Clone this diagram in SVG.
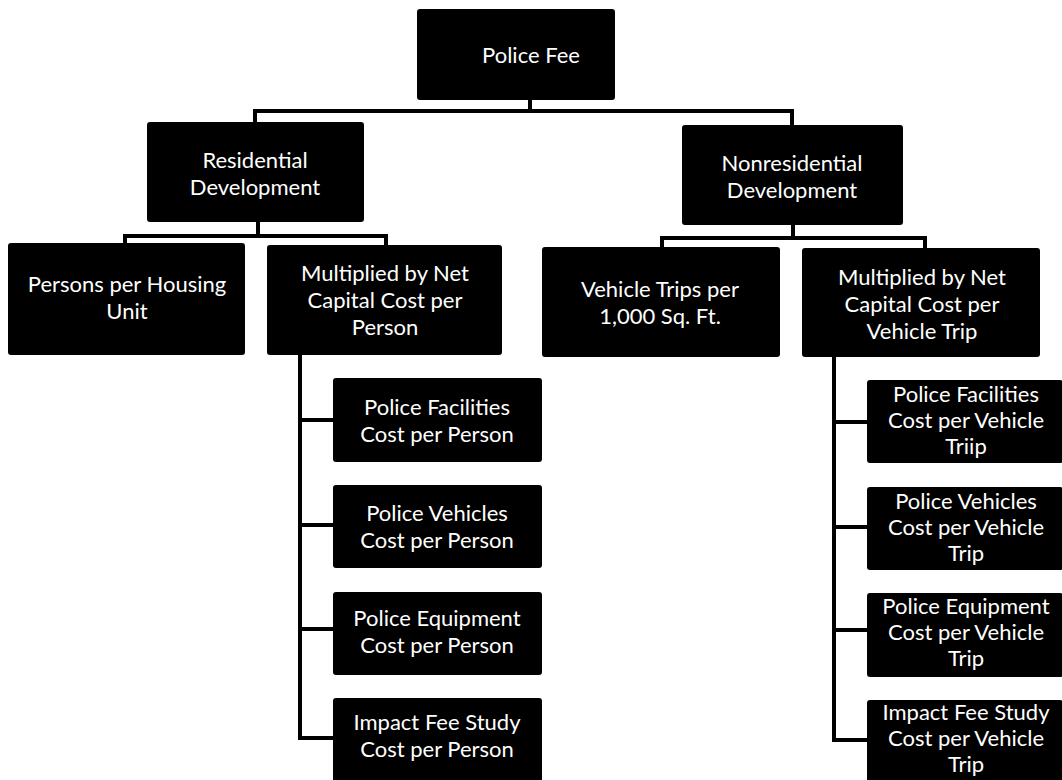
<svg xmlns="http://www.w3.org/2000/svg" width="1062" height="780" viewBox="0 0 1062 780">
<style>
.box{fill:#000;}
.t{font-family:Lato,"Open Sans","Liberation Sans",sans-serif;font-size:22px;fill:#fff;text-anchor:middle;}
.c{stroke:#000;stroke-width:4;fill:none;stroke-linecap:square;}
</style>
<rect width="1062" height="780" fill="#fff"/>
<g id="connectors">
<path class="c" d="M530 100V111M255 111H792M255 111V122M792 111V125"/>
<path class="c" d="M258 222V236M125 236H386M125 236V243M386 236V245"/>
<path class="c" d="M793 225V238M662 238H925M662 238V247M925 238V248"/>
<path class="c" d="M300 355V738M300 420H333M300 525H333M300 629H333M300 738H333"/>
<path class="c" d="M834 357V740M834 422H867M834 527H867M834 630H867M834 740H867"/>
</g>
<g id="police-fee"><rect class="box" x="417" y="9" width="198" height="91" rx="3"/><text class="t" x="531" y="63">Police Fee</text></g>
<g id="residential"><rect class="box" x="147" y="122" width="217" height="100" rx="3"/><text class="t" x="255" y="168">Residential</text><text class="t" x="255" y="195">Development</text></g>
<g id="nonresidential"><rect class="box" x="682" y="125" width="221" height="100" rx="3"/><text class="t" x="792" y="171">Nonresidential</text><text class="t" x="792" y="198">Development</text></g>
<g id="persons"><rect class="box" x="8" y="243" width="237" height="112" rx="3"/><text class="t" x="127" y="292">Persons per Housing</text><text class="t" x="127" y="319">Unit</text></g>
<g id="mult-person"><rect class="box" x="267" y="245" width="235" height="110" rx="3"/><text class="t" x="385" y="281">Multiplied by Net</text><text class="t" x="385" y="308">Capital Cost per</text><text class="t" x="385" y="335">Person</text></g>
<g id="vehicle-trips"><rect class="box" x="542" y="247" width="238" height="110" rx="3"/><text class="t" x="660" y="297">Vehicle Trips per</text><text class="t" x="660" y="324">1,000 Sq. Ft.</text></g>
<g id="mult-trip"><rect class="box" x="802" y="248" width="238" height="109" rx="3"/><text class="t" x="922" y="285">Multiplied by Net</text><text class="t" x="922" y="312">Capital Cost per</text><text class="t" x="922" y="339">Vehicle Trip</text></g>
<g id="res-facilities"><rect class="box" x="333" y="378" width="209" height="84" rx="3"/><text class="t" x="437" y="415">Police Facilities</text><text class="t" x="437" y="442">Cost per Person</text></g>
<g id="res-vehicles"><rect class="box" x="333" y="485" width="209" height="83" rx="3"/><text class="t" x="437" y="521">Police Vehicles</text><text class="t" x="437" y="548">Cost per Person</text></g>
<g id="res-equipment"><rect class="box" x="333" y="592" width="209" height="83" rx="3"/><text class="t" x="437" y="626">Police Equipment</text><text class="t" x="437" y="653">Cost per Person</text></g>
<g id="res-study"><rect class="box" x="333" y="698" width="209" height="86" rx="3"/><text class="t" x="437" y="730">Impact Fee Study</text><text class="t" x="437" y="757">Cost per Person</text></g>
<g id="nr-facilities"><rect class="box" x="867" y="380" width="196" height="83" rx="3"/><text class="t" x="966" y="402">Police Facilities</text><text class="t" x="966" y="428">Cost per Vehicle</text><text class="t" x="966" y="454">Triip</text></g>
<g id="nr-vehicles"><rect class="box" x="867" y="487" width="196" height="83" rx="3"/><text class="t" x="966" y="509">Police Vehicles</text><text class="t" x="966" y="535">Cost per Vehicle</text><text class="t" x="966" y="561">Trip</text></g>
<g id="nr-equipment"><rect class="box" x="867" y="593" width="196" height="84" rx="3"/><text class="t" x="966" y="614">Police Equipment</text><text class="t" x="966" y="640">Cost per Vehicle</text><text class="t" x="966" y="666">Trip</text></g>
<g id="nr-study"><rect class="box" x="867" y="700" width="196" height="85" rx="3"/><text class="t" x="966" y="720">Impact Fee Study</text><text class="t" x="966" y="746">Cost per Vehicle</text><text class="t" x="966" y="772">Trip</text></g>
</svg>
